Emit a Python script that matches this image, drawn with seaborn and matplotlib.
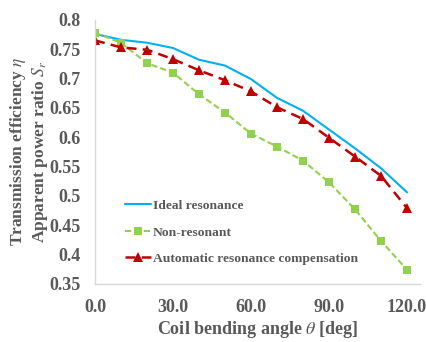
import matplotlib
matplotlib.use("Agg")
import matplotlib.pyplot as plt
import seaborn as sns
import pandas as pd

# bending angle [deg]
angles = [0, 10, 20, 30, 40, 50, 60, 70, 80, 90, 100, 110, 120]
ideal = [0.776, 0.766, 0.761, 0.752, 0.732, 0.722, 0.699, 0.667, 0.645, 0.613, 0.581, 0.547, 0.506]
non_res = [0.778, 0.761, 0.726, 0.710, 0.673, 0.642, 0.606, 0.584, 0.560, 0.523, 0.477, 0.423, 0.374]
auto_comp = [0.765, 0.753, 0.749, 0.733, 0.714, 0.697, 0.678, 0.651, 0.631, 0.599, 0.567, 0.534, 0.479]
x_ticks = [0, 30, 60, 90, 120]
y_ticks = [0.35, 0.4, 0.45, 0.5, 0.55, 0.6, 0.65, 0.7, 0.75, 0.8]

sns.set_style("white")
plt.rcParams['font.family'] = ['Liberation Serif', 'DejaVu Serif']
plt.rcParams['mathtext.fontset'] = 'stix'
txt = '#595959'

df = pd.DataFrame({'angle': angles, 'ideal': ideal, 'non': non_res, 'auto': auto_comp})

fig = plt.figure(figsize=(4.26, 3.42), dpi=100)
ax = fig.add_axes([0.223, 0.170, 0.763, 0.772])

sns.lineplot(data=df, x='angle', y='ideal', ax=ax, color='#00B0F0', lw=1.5,
             label='Ideal resonance')
sns.lineplot(data=df, x='angle', y='non', ax=ax, color='#92D050', lw=1.5,
             linestyle=(0, (3, 1.5)), marker='s', markersize=6, markeredgewidth=0,
             label='Non-resonant')
sns.lineplot(data=df, x='angle', y='auto', ax=ax, color='#C00000', lw=1.8,
             linestyle=(0, (4, 2.5)), marker='^', markersize=7, markeredgewidth=0,
             label='Automatic resonance compensation')

ax.set_xlim(0, 125)
ax.set_ylim(0.35, 0.8)
ax.set_xticks(x_ticks)
ax.set_xticklabels([f'{v:.1f}' for v in x_ticks])
ax.set_yticks(y_ticks)
ax.set_yticklabels([f'{v:g}' for v in y_ticks])
ax.tick_params(length=0, labelsize=13, colors=txt, pad=10)
ax.tick_params(axis='x', pad=11)
for t in ax.get_xticklabels() + ax.get_yticklabels():
    t.set_fontweight('bold')

for s in ['top', 'right']:
    ax.spines[s].set_visible(False)
for s in ['left', 'bottom']:
    ax.spines[s].set_color('#d9d9d9')
    ax.spines[s].set_linewidth(1)

ax.set_xlabel(r'Coil bending angle $\theta$ [deg]', fontsize=13, fontweight='bold',
              color=txt)
ax.set_ylabel('Transmission efficiency $\\eta$\nApparent power ratio $S_r$',
              fontsize=12.5, fontweight='bold', color=txt, linespacing=1.15)
ax.xaxis.set_label_coords(0.5, -0.133)
ax.yaxis.set_label_coords(-0.138, 0.5)

leg = ax.legend(loc='lower left', bbox_to_anchor=(0.055, 0.025), frameon=False,
                fontsize=9.7, handlelength=1.9, labelspacing=1.05, handletextpad=0.15)
for t in leg.get_texts():
    t.set_color(txt)
    t.set_fontweight('bold')

fig.savefig('out.png', dpi=100)
